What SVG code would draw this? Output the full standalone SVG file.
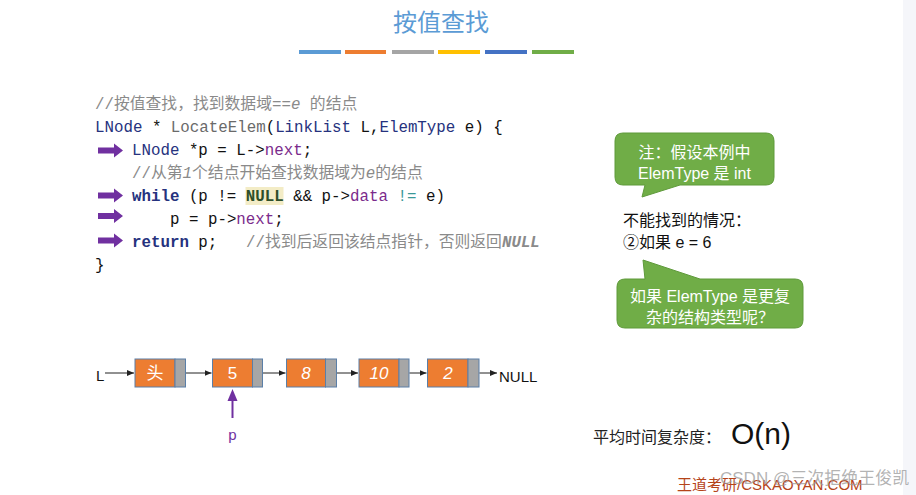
<svg xmlns="http://www.w3.org/2000/svg" width="916" height="495" viewBox="0 0 916 495">
<style>
.cjk{font-family:"Liberation Sans","Noto Sans CJK SC",sans-serif}
.code{font-family:"Liberation Mono","Noto Sans CJK SC",monospace;font-size:15.8px;fill:#111;white-space:pre}
.kw{fill:#26327e}
.kwb{fill:#26327e;font-weight:bold}
.fn{fill:#6a6a6a}
.mem{fill:#7b2b8c}
.cm{fill:#8a8a8a}
.it{font-style:italic}
.bub{fill:#70ad47;stroke:#5f9a3b;stroke-width:1}
.bt{font-family:"Liberation Sans","Noto Sans CJK SC",sans-serif;font-size:16px;fill:#fff;text-anchor:middle}
.no{fill:#ed7d31;stroke:#5a7fa8;stroke-width:1}
.pt{fill:#a6a6a6;stroke:#5a7fa8;stroke-width:1}
.nt{font-family:"Liberation Sans","Noto Sans CJK SC",sans-serif;font-size:17px;fill:#fff;text-anchor:middle}
.ln{stroke:#222;stroke-width:1;fill:none;marker-end:url(#ah)}
.parr{fill:#7030a0}
</style>
<defs>
<marker id="ah" markerWidth="8" markerHeight="8" refX="7" refY="4" orient="auto" markerUnits="userSpaceOnUse">
<path d="M0,1 L7,4 L0,7 Z" fill="#222"/>
</marker>
<marker id="ahp" markerWidth="12" markerHeight="12" refX="6" refY="6" orient="auto" markerUnits="userSpaceOnUse">
<path d="M0,1 L12,6 L0,11 Z" fill="#7030a0"/>
</marker>
<path id="blk" d="M0,-3 L16,-3 L16,-7 L25,0 L16,7 L16,3 L0,3 Z"/>
</defs>
<rect width="916" height="495" fill="#fff"/>
<rect x="903" y="0" width="13" height="495" fill="#f5f6fa"/>

<g id="title">
<text x="441" y="31" class="cjk" font-size="24" fill="#5b9bd5" text-anchor="middle">按值查找</text>
<rect x="299" y="50" width="42" height="4" fill="#5b9bd5"/>
<rect x="345" y="50" width="41" height="4" fill="#ed7d31"/>
<rect x="392" y="50" width="42" height="4" fill="#a5a5a5"/>
<rect x="438" y="50" width="42" height="4" fill="#ffc000"/>
<rect x="485" y="50" width="42" height="4" fill="#4472c4"/>
<rect x="532" y="50" width="42" height="4" fill="#70ad47"/>
</g>

<g id="code">
<rect x="245.5" y="187" width="38" height="18" fill="#f3ecc6"/>
<text class="code" x="95" y="109"><tspan class="cm">//按值查找，找到数据域==<tspan class="it">e</tspan> 的结点</tspan></text>
<text class="code" x="95" y="132"><tspan class="kw">LNode</tspan> * <tspan class="fn">LocateElem</tspan>(<tspan class="kw">LinkList</tspan> L,<tspan class="kw">ElemType</tspan> e) {</text>
<text class="code" x="132" y="155"><tspan class="kw">LNode</tspan> *p = L-&gt;<tspan class="mem">next</tspan>;</text>
<text class="code" x="132" y="178"><tspan class="cm">//从第<tspan class="it">1</tspan>个结点开始查找数据域为<tspan class="it">e</tspan>的结点</tspan></text>
<text class="code" x="132" y="201"><tspan class="kwb">while</tspan> (p != <tspan font-weight="bold" fill="#2e4f2a">NULL</tspan> &amp;&amp; p-&gt;<tspan class="mem">data</tspan> <tspan fill="#3a9898">!=</tspan> e)</text>
<text class="code" x="170" y="224">p = p-&gt;<tspan class="mem">next</tspan>;</text>
<text class="code" x="132" y="247"><tspan class="kwb">return</tspan> p;<tspan class="cm" x="246">//找到后返回该结点指针，否则返回<tspan class="it" font-weight="bold">NULL</tspan></tspan></text>
<text class="code" x="95" y="270">}</text>
</g>

<g id="code-arrows" class="parr">
<use href="#blk" x="98" y="150.5"/>
<use href="#blk" x="98" y="195.5"/>
<use href="#blk" x="98" y="216"/>
<use href="#blk" x="98" y="240.5"/>
</g>

<g id="note1">
<path class="bub" d="M623,133 H766 Q774,133 774,141 V177 Q774,185 766,185 H680 L642,197 L645,185 H623 Q615,185 615,177 V141 Q615,133 623,133 Z"/>
<text class="bt" x="694.5" y="158">注：假设本例中</text>
<text class="bt" x="694.5" y="179">ElemType 是 int</text>
</g>

<g id="case-text">
<text x="623" y="226" class="cjk" font-size="16" fill="#111">不能找到的情况：</text>
<text x="623" y="248" class="cjk" font-size="16" fill="#111">②如果 e = 6</text>
</g>

<g id="note2">
<path class="bub" d="M625,279 H645 L643,260 L700,279 H795 Q803,279 803,287 V320 Q803,328 795,328 H625 Q617,328 617,320 V287 Q617,279 625,279 Z"/>
<text class="bt" x="710" y="302">如果 ElemType 是更复</text>
<text class="bt" x="710" y="323">杂的结构类型呢？</text>
</g>

<g id="list-L">
<text x="96" y="381" class="cjk" font-size="15" fill="#111">L</text>
</g>
<g id="node-head">
<rect class="no" x="135" y="359" width="40" height="28"/>
<rect class="pt" x="175" y="359" width="10.5" height="28"/>
<text class="nt" x="155" y="379">头</text>
</g>
<g id="node-5">
<rect class="no" x="212.5" y="359" width="40" height="28"/>
<rect class="pt" x="252.5" y="359" width="10" height="28"/>
<text class="nt" x="232.5" y="379">5</text>
</g>
<g id="node-8">
<rect class="no" x="286.5" y="359" width="39" height="28"/>
<rect class="pt" x="325.5" y="359" width="11" height="28"/>
<text class="nt it" x="306" y="379">8</text>
</g>
<g id="node-10">
<rect class="no" x="359" y="359" width="40" height="28"/>
<rect class="pt" x="399" y="359" width="10" height="28"/>
<text class="nt it" x="379" y="379">10</text>
</g>
<g id="node-2">
<rect class="no" x="427.5" y="359" width="40.5" height="28"/>
<rect class="pt" x="468" y="359" width="11" height="28"/>
<text class="nt it" x="448" y="379">2</text>
</g>
<g id="null-label">
<text x="499" y="382" class="cjk" font-size="15" fill="#111">NULL</text>
</g>

<g id="connectors">
<line class="ln" x1="105" y1="373" x2="134" y2="373"/>
<line class="ln" x1="186" y1="373" x2="211.5" y2="373" stroke="#999"/>
<line class="ln" x1="263" y1="373" x2="285.5" y2="373"/>
<line class="ln" x1="337" y1="373" x2="358" y2="373"/>
<line class="ln" x1="409.5" y1="373" x2="426.5" y2="373"/>
<line class="ln" x1="479.5" y1="373" x2="497" y2="373"/>
<line x1="232.5" y1="418" x2="232.5" y2="395" stroke="#7030a0" stroke-width="2" marker-end="url(#ahp)"/>
</g>

<g id="p-label">
<text x="232.5" y="440" class="cjk" font-size="15" fill="#7030a0" text-anchor="middle">p</text>
</g>

<g id="complexity">
<text x="593" y="443" class="cjk" font-size="16" fill="#222">平均时间复杂度：</text>
<text x="731" y="444" font-family="Liberation Sans, sans-serif" font-size="30" fill="#111">O(n)</text>
</g>

<g id="footer">
<text x="677" y="490" class="cjk" font-size="15" fill="#b5441a">王道考研/CSKAOYAN.COM</text>
<text x="720" y="484" class="cjk" font-size="17" fill="#9a9a9a" fill-opacity="0.75">CSDN @三次拒绝王俊凯</text>
</g>
</svg>
